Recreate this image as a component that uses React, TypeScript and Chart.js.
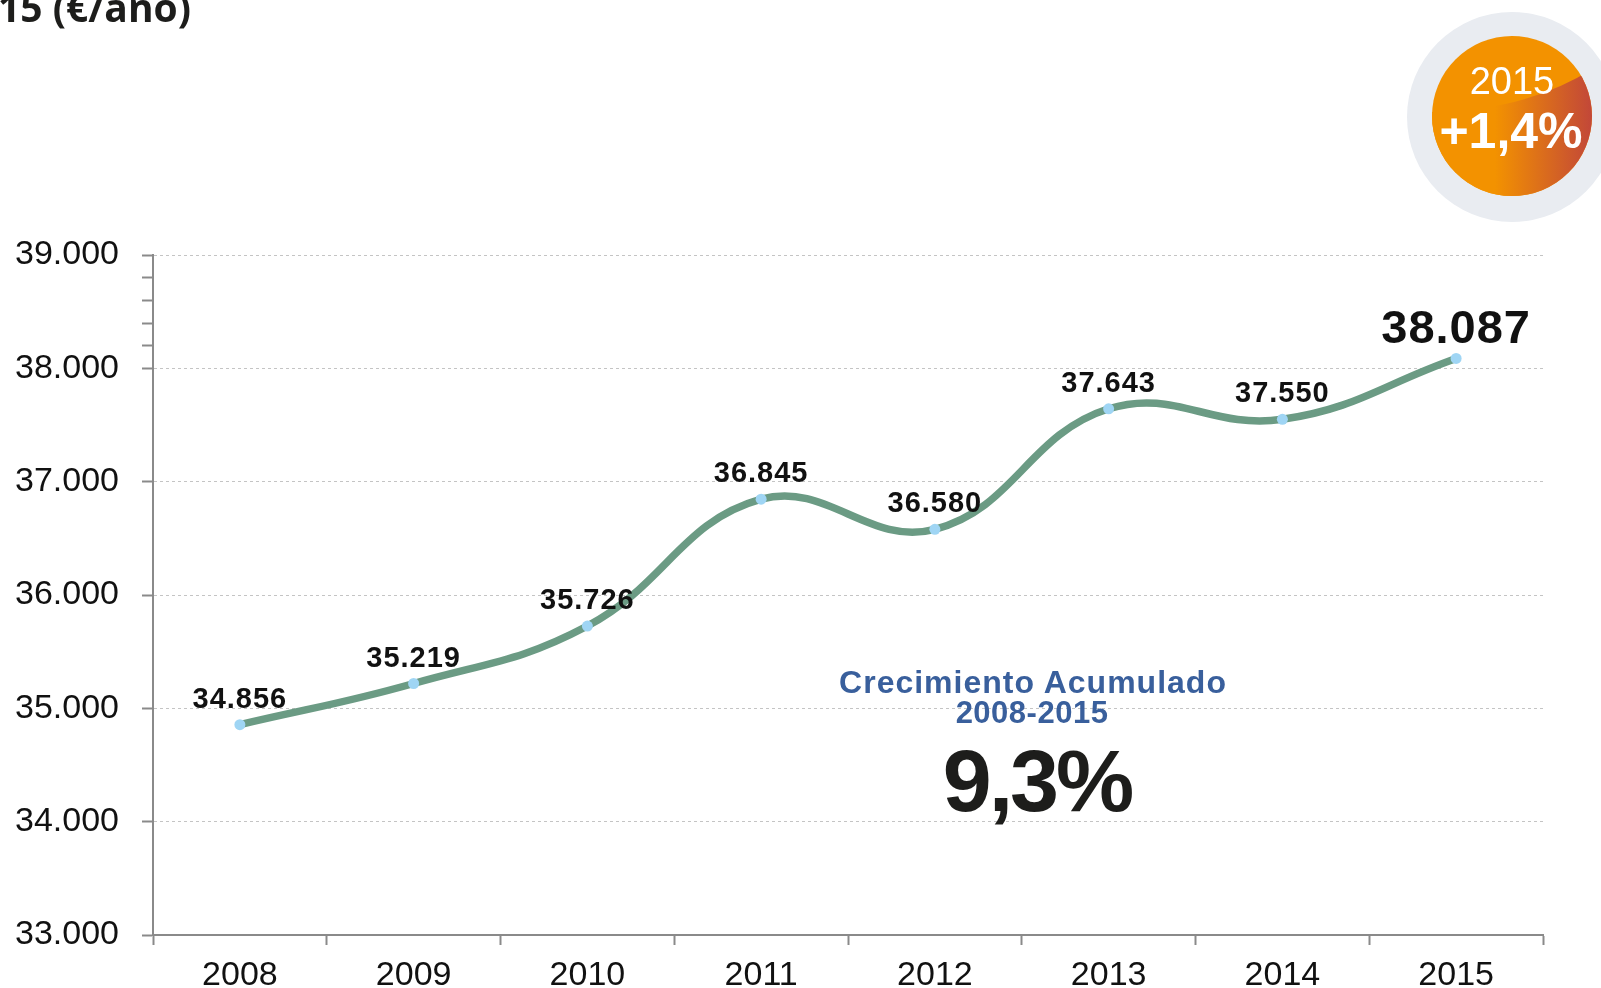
import React, { useEffect, useRef } from "react";
import { Chart, registerables } from "chart.js";

Chart.register(...registerables);

// ---- data ----
const categories = ["2008", "2009", "2010", "2011", "2012", "2013", "2014", "2015"];
const salaryValues = [34856, 35219, 35726, 36845, 36580, 37643, 37550, 38087];
const yMin = 33000;
const yMax = 39000;
const titleText = "15 (€/ano)";
const badgeYear = "2015";
const badgeChange = "+1,4%";
const noteLines = ["Crecimiento Acumulado", "2008-2015"];
const noteValue = "9,3%";

const FONT = "'Liberation Sans', Arial, Helvetica, sans-serif";

const fmt = (v: number) => {
  const t = Math.floor(v / 1000);
  const r = Math.round(v % 1000);
  return `${t}.${String(r).padStart(3, "0")}`;
};

const valueLabelPlugin = {
  id: "valueLabels",
  afterDatasetsDraw(chart: any) {
    const ctx = chart.ctx;
    const meta = chart.getDatasetMeta(0);
    const data = chart.data.datasets[0].data as number[];
    ctx.save();
    ctx.fillStyle = "#111111";
    ctx.textAlign = "center";
    ctx.textBaseline = "alphabetic";
    meta.data.forEach((pt: any, i: number) => {
      const last = i === data.length - 1;
      ctx.font = `bold ${last ? 47 : 29}px ${FONT}`;
      try {
        (ctx as any).letterSpacing = "1px";
      } catch (e) {}
      ctx.fillText(fmt(data[i]), pt.x, pt.y - (last ? 15 : 17));
    });
    ctx.restore();
  },
};

export default function App() {
  const canvasRef = useRef<HTMLCanvasElement | null>(null);

  useEffect(() => {
    document.body.style.margin = "0";
    const canvas = canvasRef.current;
    if (!canvas) return;
    const chart = new Chart(canvas, {
      type: "line",
      data: {
        labels: categories,
        datasets: [
          {
            data: salaryValues,
            borderColor: "#6b9b84",
            borderWidth: 7.5,
            tension: 0.42,
            pointRadius: 5.5,
            pointHoverRadius: 5.5,
            pointBackgroundColor: "#9fd5f4",
            pointBorderWidth: 0,
            fill: false,
            clip: false as any,
          },
        ],
      },
      options: {
        responsive: false,
        animation: false,
        devicePixelRatio: 1,
        layout: { padding: { top: 255, right: 58, left: 0, bottom: 0 } },
        plugins: {
          legend: { display: false },
          tooltip: { enabled: false },
        },
        scales: {
          x: {
            offset: true,
            grid: {
              offset: true,
              drawOnChartArea: false,
              drawTicks: true,
              tickLength: 10,
              tickColor: "#8a8a8a",
              tickWidth: 2,
              color: "#8a8a8a",
            },
            border: { display: true, color: "#8a8a8a", width: 2 },
            ticks: {
              color: "#111111",
              font: { size: 34, family: FONT },
              padding: 10,
              maxRotation: 0,
              autoSkip: false,
            },
            afterFit: (s: any) => {
              s.height = 53;
            },
          },
          y: {
            min: yMin,
            max: yMax,
            ticks: {
              stepSize: 200,
              maxTicksLimit: 100,
              autoSkip: false,
              padding: 23,
              color: "#111111",
              font: { size: 34, family: FONT },
              callback: (v: any) => (Number(v) % 1000 === 0 ? fmt(Number(v)) : ""),
            },
            grid: {
              color: (c: any) =>
                c.tick && c.tick.value % 1000 === 0 ? "#c4c4c4" : "rgba(0,0,0,0)",
              lineWidth: 1,
              drawTicks: true,
              tickLength: 11,
              tickWidth: 2,
              tickColor: (c: any) =>
                c.tick && (c.tick.value % 1000 === 0 || c.tick.value > 38000)
                  ? "#8a8a8a"
                  : "rgba(0,0,0,0)",
            },
            border: { display: true, color: "#8a8a8a", width: 2, dash: [3, 3] },
            afterFit: (s: any) => {
              s.width = 153;
            },
          },
        },
      },
      plugins: [valueLabelPlugin],
    });
    return () => chart.destroy();
  }, []);

  return (
    <div
      style={{
        position: "fixed",
        left: 0,
        top: 0,
        width: 1601,
        height: 988,
        background: "#ffffff",
        overflow: "hidden",
      }}
    >
      <canvas
        ref={canvasRef}
        width={1601}
        height={988}
        style={{ position: "absolute", left: 0, top: 0, width: 1601, height: 988, display: "block" }}
      />
      <svg
        width={1601}
        height={988}
        style={{ position: "absolute", left: 0, top: 0, pointerEvents: "none" }}
      >
        <defs>
          <linearGradient id="badgeGrad" x1="1495" y1="0" x2="1596" y2="0" gradientUnits="userSpaceOnUse">
            <stop offset="0" stopColor="#f39200" />
            <stop offset="1" stopColor="#c0443b" />
          </linearGradient>
          <clipPath id="badgeClip">
            <circle cx={1512} cy={116} r={80} />
          </clipPath>
        </defs>
        <text
          x={-2}
          y={22}
          fontFamily="'Open Sans', 'Noto Sans', sans-serif"
          fontWeight={700}
          fontSize={39}
          fill="#1d1d1b"
        >
          {titleText}
        </text>
        <circle cx={1512} cy={117} r={105} fill="#e9ecf1" />
        <circle cx={1512} cy={116} r={80} fill="#f39200" />
        <path
          clipPath="url(#badgeClip)"
          d="M1425 112 Q1530 112 1600 64 L1600 205 L1425 205 Z"
          fill="url(#badgeGrad)"
        />
        <text x={1512} y={94} textAnchor="middle" fill="#ffffff" fontFamily={FONT} fontSize={38}>
          {badgeYear}
        </text>
        <text
          x={1511}
          y={148}
          textAnchor="middle"
          fill="#ffffff"
          fontFamily={FONT}
          fontWeight={700}
          fontSize={50}
        >
          {badgeChange}
        </text>
        <text
          x={1033}
          y={693}
          textAnchor="middle"
          fill="#395f9c"
          fontFamily={FONT}
          fontWeight={700}
          fontSize={32}
          letterSpacing={1}
        >
          {noteLines[0]}
        </text>
        <text
          x={1032}
          y={723}
          textAnchor="middle"
          fill="#395f9c"
          fontFamily={FONT}
          fontWeight={700}
          fontSize={31}
          letterSpacing={0.5}
        >
          {noteLines[1]}
        </text>
        <text
          x={1037}
          y={811}
          textAnchor="middle"
          fill="#1d1d1b"
          fontFamily={FONT}
          fontWeight={700}
          fontSize={88}
          letterSpacing={-3}
        >
          {noteValue}
        </text>
      </svg>
    </div>
  );
}
